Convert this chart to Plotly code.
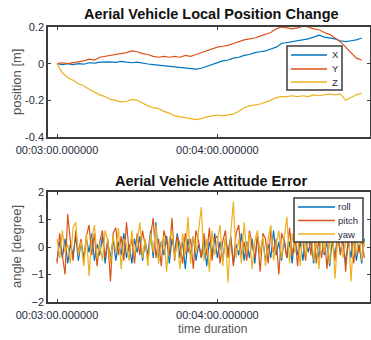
import plotly.graph_objects as go

# ---------------- data ----------------
# seconds after 00:03:00
pos_t = list(range(0, 116, 2))
pos_x = [0, -0.005, 0.0, -0.005, 0.0, -0.003, 0.005, 0.003, 0.008, 0.01, 0.01, 0.007, 0.012, 0.008, 0.005,
         0.008, 0.002, -0.002, -0.005, -0.008, -0.012, -0.015, -0.02, -0.022, -0.025, -0.028, -0.03, -0.025,
         -0.015, -0.005, 0.005, 0.015, 0.02, 0.03, 0.035, 0.045, 0.05, 0.06, 0.065, 0.07, 0.08, 0.09, 0.11,
         0.115, 0.12, 0.125, 0.13, 0.135, 0.145, 0.155, 0.145, 0.14, 0.135, 0.125, 0.12, 0.125, 0.13, 0.14]
pos_y = [0, 0.005, 0.0, 0.005, 0.01, 0.015, 0.025, 0.02, 0.035, 0.04, 0.045, 0.05, 0.055, 0.06, 0.07,
         0.065, 0.055, 0.05, 0.04, 0.035, 0.04, 0.035, 0.04, 0.035, 0.045, 0.04, 0.05, 0.06, 0.07, 0.08,
         0.09, 0.095, 0.1, 0.11, 0.12, 0.13, 0.135, 0.14, 0.15, 0.16, 0.17, 0.19, 0.2, 0.195, 0.19, 0.195,
         0.205, 0.2, 0.19, 0.185, 0.17, 0.16, 0.14, 0.12, 0.09, 0.06, 0.03, 0.02]
pos_z = [0, -0.05, -0.075, -0.09, -0.11, -0.12, -0.14, -0.155, -0.17, -0.18, -0.195, -0.2, -0.21, -0.205,
         -0.195, -0.2, -0.215, -0.23, -0.24, -0.245, -0.26, -0.27, -0.285, -0.29, -0.295, -0.3, -0.305,
         -0.3, -0.29, -0.285, -0.28, -0.285, -0.28, -0.275, -0.26, -0.24, -0.23, -0.225, -0.22, -0.21,
         -0.2, -0.185, -0.18, -0.18, -0.175, -0.18, -0.175, -0.18, -0.17, -0.175, -0.17, -0.165, -0.17,
         -0.165, -0.2, -0.185, -0.17, -0.16]

att_t = list(range(0, 116))
roll = [-0.5, 0.2, -0.4, 0.3, -0.6, 0.1, -0.3, 0.4, -0.5, 0.2, -0.4, 0.3, -0.2, 0.5, -0.5, 0.1, -0.3, 0.4,
        -0.6, 0.2, -0.4, 0.3, -0.5, 0.2, -0.3, 0.5, -0.4, 0.1, -0.6, 0.3, -0.2, 0.4, -0.5, 0.2, -0.3, 0.6,
        -0.4, 0.9, -0.5, 0.2, -0.3, 0.4, -0.6, 0.3, -0.2, 0.5, -0.4, 0.2, -0.8, 0.3, -0.3, 0.4, -0.5, 0.1,
        -0.4, 0.3, -0.7, 0.2, -0.3, 0.5, -0.4, 0.2, -0.5, 0.3, -0.2, 0.4, -0.6, 0.1, -0.3, 0.5, -0.5, 0.2,
        -0.4, 0.3, -0.6, 0.4, -0.2, 0.3, -0.5, 0.1, -0.4, 0.6, -0.3, 0.2, -0.5, 0.3, -0.4, 0.2, -0.6, 0.5,
        -0.3, 0.2, -0.5, 0.4, -0.2, 0.3, -0.6, 0.2, -0.4, 0.5, -0.3, 0.2, -0.7, 0.3, -0.4, 0.4, -0.2, 0.3,
        -0.6, 0.2, -0.4, 0.5, -0.5, 0.1, -0.6, 0.3]
pitch = [-0.6, 0.5, -0.3, -1.0, 1.2, 0.2, -0.5, 0.6, -0.2, 0.3, -0.6, 0.4, 0.8, -0.3, 0.5, -0.7, 0.2, 0.6,
         -0.4, 0.3, -1.25, 0.5, 0.7, -0.3, 0.4, -0.5, 0.9, -0.2, 0.3, -0.6, 0.5, -0.3, 0.6, 0.1, -0.5, 0.4,
         1.05, -0.4, 0.3, -0.7, 0.6, 0.2, -0.3, 1.05, -0.5, 0.4, 0.1, -0.6, 0.5, -0.2, 0.3, -0.8, 0.6, 0.2,
         -0.4, 0.5, -0.3, 0.7, -0.5, 0.3, 0.4, -0.6, 0.2, 0.6, -0.4, 0.3, -0.7, 0.5, 0.8, -0.3, 0.2, -0.5,
         0.6, 0.1, -0.4, 0.4, -0.9, 0.5, 0.3, -0.6, 0.6, -0.2, 0.3, -1.0, 0.5, 0.2, -0.4, 0.7, -0.3, 0.4,
         -0.7, 0.5, 0.2, -0.5, 0.6, -0.3, 0.8, -0.6, 0.3, -0.4, 0.5, -0.8, 0.4, 0.2, -0.5, 0.6, -0.3, 0.4,
         -0.9, 0.5, 0.3, -0.6, 0.4, -0.2, 0.3, -0.4]
yaw = [0.3, -0.4, 0.6, -0.2, 0.1, -0.6, 0.7, 0.9, -0.3, 0.2, -0.7, 0.5, -1.05, 0.3, 0.8, -0.4, 0.1, -0.5,
       0.6, 0.2, -0.6, 0.4, -0.2, 0.7, -0.8, 0.3, 0.1, -0.5, 0.6, -0.3, 0.2, 0.9, -0.4, 0.3, -0.7, 0.5,
       -0.2, 0.8, -0.6, 0.1, 0.4, -0.9, 0.3, 0.6, -0.4, 0.2, -0.8, 0.5, -0.3, 1.1, -0.6, 0.4, -0.2, 0.7,
       1.45, -0.5, 0.3, -0.9, 0.6, -0.3, 0.2, 0.8, -0.7, 0.4, -1.3, 0.5, 1.65, -0.4, 0.3, -0.6, 0.9, -0.2,
       0.5, -0.8, 0.2, 0.6, -0.3, 0.4, -0.7, 0.3, 0.8, -0.5, 0.1, 0.6, -0.4, 0.3, 1.1, -0.6, 0.5, -0.2,
       0.4, -0.7, 0.7, -0.3, 0.2, 0.9, -0.5, 0.3, -0.8, 0.6, -0.2, 0.4, -0.6, 0.8, -1.15, 0.3, 0.5, -0.4,
       0.2, 0.7, -1.25, 0.4, -0.3, 0.6, -0.5, 0.2]

tick_vals = [0, 60]
tick_text = ["00:03:00.000000", "00:04:00.000000"]
top_names = ["X", "Y", "Z"]
bot_names = ["roll", "pitch", "yaw"]

C_BLUE, C_RED, C_YEL = "#0072BD", "#D95319", "#EDB120"
COLORS = [C_BLUE, C_RED, C_YEL]
FONT = "Liberation Sans, Arial, sans-serif"
TXT = "#262a40"
FRAME = "#3c3c3c"

fig = go.Figure()
for name, ys, c in zip(top_names, [pos_x, pos_y, pos_z], COLORS):
    fig.add_trace(go.Scatter(x=pos_t, y=ys, mode="lines", name=name, line=dict(color=c, width=1.2),
                             xaxis="x", yaxis="y", showlegend=False))
for name, ys, c in zip(bot_names, [roll, pitch, yaw], COLORS):
    fig.add_trace(go.Scatter(x=att_t, y=ys, mode="lines", name=name, line=dict(color=c, width=1.2),
                             xaxis="x2", yaxis="y2", showlegend=False))

W, H, L, R = 371, 340, 48, 1
pw = W - L - R


def px(x):
    return (x - L) / pw


def py(y):
    return 1 - y / H


xr = [-3.37, 117.1]
ax_common = dict(showline=True, linecolor=FRAME, linewidth=1.5, mirror="ticks", ticks="inside",
                 ticklen=3, tickcolor=FRAME, showgrid=False, zeroline=False, automargin=False,
                 tickfont=dict(family=FONT, size=11, color=TXT))

shapes = []


def text(t, x, y, size, color, angle=0, xanchor="center", bold=False):
    return dict(text=(f"<b>{t}</b>" if bold else t), x=px(x), y=py(y), xref="paper", yref="paper",
                xanchor=xanchor, yanchor="middle", showarrow=False, textangle=angle,
                font=dict(family=FONT, size=size, color=color))


annotations = [
    text("Aerial Vehicle Local Position Change", 211, 14, 14.5, "#111", bold=True),
    text("Aerial Vehicle Attitude Error", 211, 181, 14.5, "#111", bold=True),
    text("position [m]", 16, 82, 13, "#555", angle=-90),
    text("angle [degree]", 16, 247, 13, "#555", angle=-90),
    text("time duration", 212, 329, 12, "#555"),
]


# legend boxes (drawn in paper space, styled like the reference)
def add_legend(box, rows, line_x, text_x, names):
    x0, y0, x1, y1 = box
    shapes.append(dict(type="rect", xref="paper", yref="paper", x0=px(x0), x1=px(x1), y0=py(y1), y1=py(y0),
                       line=dict(color=FRAME, width=1.5), fillcolor="white", layer="above"))
    for yy, name, c in zip(rows, names, COLORS):
        shapes.append(dict(type="line", xref="paper", yref="paper", x0=px(line_x[0]), x1=px(line_x[1]),
                           y0=py(yy), y1=py(yy), line=dict(color=c, width=1.5), layer="above"))
        annotations.append(text(name, text_x, yy, 9.5, TXT, xanchor="left"))


add_legend((287, 46, 342, 90), [55, 69, 82], (291, 327), 330, top_names)
add_legend((294, 198, 363, 242), [207, 220.5, 234], (298, 335), 336, bot_names)

fig.update_layout(
    template="none",
    width=W, height=H, margin=dict(l=L, r=R, t=0, b=0, pad=0),
    plot_bgcolor="white", paper_bgcolor="white", font=dict(family=FONT),
    xaxis=dict(ax_common, domain=[0, 1], range=xr, tickvals=tick_vals, ticktext=tick_text, anchor="y",
               ticklabelstandoff=2),
    yaxis=dict(ax_common, domain=[py(137), py(27)], range=[-0.4, 0.2], tickvals=[-0.4, -0.2, 0, 0.2],
               ticktext=["-0.4", "-0.2", "0", "0.2"], anchor="x"),
    xaxis2=dict(ax_common, domain=[0, 1], range=xr, tickvals=tick_vals, ticktext=tick_text, anchor="y2",
                ticklabelstandoff=2),
    yaxis2=dict(ax_common, domain=[py(302), py(192)], range=[-2, 2], tickvals=[-2, -1, 0, 1, 2], anchor="x2"),
    showlegend=False,
    shapes=shapes,
    annotations=annotations,
)

fig.write_html("out.html", config={"displayModeBar": False},
               post_script="document.body.style.margin='0';")
